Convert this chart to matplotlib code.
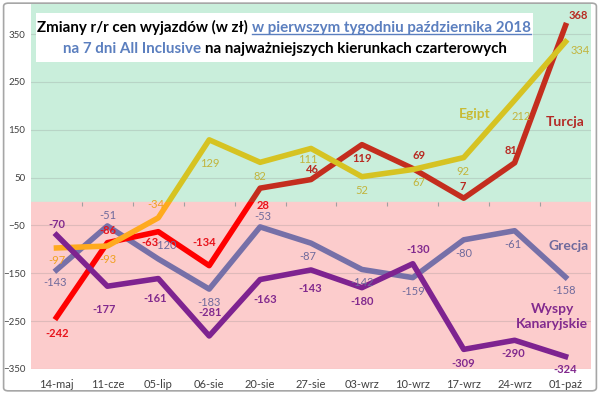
import matplotlib
matplotlib.use('Agg')
import matplotlib.pyplot as plt
from matplotlib.patches import Rectangle, FancyBboxPatch
from matplotlib.lines import Line2D

plt.rcParams['font.family'] = ['Lato', 'DejaVu Sans']

dates = ['14-maj', '11-cze', '05-lip', '06-sie', '20-sie', '27-sie',
         '03-wrz', '10-wrz', '17-wrz', '24-wrz', '01-paź']
turcja = [-242, -86, -63, -134, 28, 46, 119, 69, 7, 81, 368]
egipt = [-97, -93, -34, 129, 82, 111, 52, 67, 92, 212, 334]
grecja = [-143, -51, -120, -183, -53, -87, -142, -159, -80, -61, -158]
wyspy = [-70, -177, -161, -281, -163, -143, -180, -130, -309, -290, -324]
yticks = [-350, -250, -150, -50, 50, 150, 250, 350]

# przesuniecia etykiet w pikselach (dx w prawo, dy w dol)
turcja_off = [(1, 16), (0, -12), (-8, 11), (-5, -23), (3, 17), (1, -10),
              (0, 14), (6, -13), (-1, -12), (-4, -12), (13, -10)]
egipt_off = [(0, 13), (0, 13), (-2, -13), (1, 24), (0, 14), (-3, 11),
             (0, 14), (6, 13), (-1, 14), (7, 16), (15, 9)]
grecja_off = [(-1, 13), (0, -10), (7, -13), (0, 13), (3, -10), (-3, 13),
              (0, 13), (0, 14), (0, 14), (-2, 14), (-1, 13)]
wyspy_off = [(0, -11), (-3, 23), (-3, 20), (1, -23), (5, 20), (-1, 19),
             (0, 14), (5, -14), (0, 14), (-1, 13), (0, 13)]

YMIN, YMAX = -350, 413
PX = 365 / (YMAX - YMIN)  # pikseli na jednostke

fig = plt.figure(figsize=(6, 3.94), dpi=100)
ax = fig.add_axes([0.0517, 0.0635, 0.9333, 0.9264])
x = list(range(len(dates)))
ax.set_xlim(-0.5, len(dates) - 0.5)
ax.set_ylim(YMIN, YMAX)
ax.axhspan(0, YMAX, color='#c9eedb', zorder=0)
ax.axhspan(YMIN, 0, color='#fccccc', zorder=0)
ax.set_axisbelow(True)
ax.set_yticks(yticks)
ax.grid(axis='y', color='#888888', alpha=0.25, lw=0.8)
ax.set_xticks(x)
ax.set_xticklabels(dates)
ax.tick_params(axis='x', length=0, pad=7, labelsize=8, labelcolor='#404040')
ax.tick_params(axis='y', length=0, pad=4, labelsize=7, labelcolor='#404040')
for s in ax.spines.values():
    s.set_visible(False)

# kreski podzialu na linii zera
sec = ax.secondary_xaxis((0 - YMIN) / (YMAX - YMIN))
sec.set_xticks([i + 0.5 for i in x[:-1]])
sec.tick_params(length=3, color='#a0a0a0', labelbottom=False)
sec.spines['bottom'].set_visible(False)


def draw(vals, c_up, c_down, z):
    for c, y0, h in ((c_up, 0, 1000), (c_down, -1000, 1000)):
        ln, = ax.plot(x, vals, color=c, lw=4, zorder=z, solid_joinstyle='round')
        ln.set_clip_path(Rectangle((-1, y0), 20, h, transform=ax.transData))


def labels(vals, offs, c_up, c_down, weight):
    for i, (v, (dx, dy)) in enumerate(zip(vals, offs)):
        c = c_up if v - dy / PX > 0 else c_down
        ax.annotate(str(v), (i, v), xytext=(dx, -dy), textcoords='offset pixels',
                    ha='center', va='center', color=c, fontsize=8,
                    fontweight=weight, zorder=10)


draw(grecja, '#7670a8', '#7670a8', 3)
draw(turcja, '#c42d1e', '#ff0000', 4)
draw(egipt, '#d6c322', '#ffaa1e', 5)
draw(wyspy, '#7e2390', '#7e2390', 6)

labels(grecja, grecja_off, '#6f6a9c', '#6f6a9c', 'normal')
labels(turcja, turcja_off, '#b82a22', '#e8141c', 'bold')
labels(egipt, egipt_off, '#c2b43c', '#f0a020', 'normal')
labels(wyspy, wyspy_off, '#822a8e', '#822a8e', 'bold')

ax.text(8.21, 184, 'Egipt', color='#c8bb34', fontsize=10, fontweight='bold',
        ha='center', va='center', zorder=10)
ax.text(10.0, 166, 'Turcja', color='#b42a26', fontsize=10, fontweight='bold',
        ha='center', va='center', zorder=10)
ax.text(10.06, -92, 'Grecja', color='#6f6a9c', fontsize=10, fontweight='bold',
        ha='center', va='center', zorder=10)
ax.text(9.74, -241, 'Wyspy\nKanaryjskie', color='#822a8e', fontsize=10,
        fontweight='bold', ha='center', va='center', linespacing=1.3, zorder=10)

# tytul w bialej ramce
ax.add_patch(Rectangle((0.009, 0.841), 0.887, 0.134, transform=ax.transAxes,
                       facecolor='white', edgecolor='none', zorder=8))

BLUE = '#5b7fbf'
line1 = [('Zmiany r/r cen wyjazdów (w zł)', 'black'),
         ('w pierwszym tygodniu października 2018', BLUE)]
line2 = [('na 7 dni All Inclusive', BLUE),
         ('na najważniejszych kierunkach czarterowych', 'black')]

r = fig.canvas.get_renderer()
ax_w = ax.get_window_extent(r).width


def measure(s, size):
    t = ax.text(0, 0, s, fontsize=size, fontweight='bold', transform=ax.transAxes)
    w = t.get_window_extent(r).width
    t.remove()
    return w


def title_line(parts, xc, y, size):
    gap = measure('a a', size) - measure('aa', size)
    texts = [ax.text(0, y, s, color=c, fontsize=size, fontweight='bold',
                     va='baseline', transform=ax.transAxes, zorder=9)
             for s, c in parts]
    widths = [t.get_window_extent(r).width for t in texts]
    total = sum(widths) + gap * (len(parts) - 1)
    pos = xc - total / 2 / ax_w
    for t, w in zip(texts, widths):
        t.set_x(pos)
        pos += (w + gap) / ax_w
    return texts


base = 10
w1 = sum(measure(s, base) for s, _ in line1) + measure('a a', base) - measure('aa', base)
size = base * 492 / w1
t1 = title_line(line1, 0.452, 0.923, size)
t2 = title_line(line2, 0.454, 0.867, size)

bb = t1[1].get_window_extent(r).transformed(ax.transAxes.inverted())
ax.add_line(Line2D([bb.x0, bb.x1], [0.923 - 1.5 / 365] * 2, color=BLUE, lw=1,
                   transform=ax.transAxes, zorder=9))

fig.patches.append(FancyBboxPatch((0.006, 0.008), 0.988, 0.984,
                                  boxstyle='round,pad=0,rounding_size=0.008',
                                  transform=fig.transFigure, fill=False,
                                  ec='#a6a6a6', lw=1.2))

fig.savefig('out.png', dpi=100)
